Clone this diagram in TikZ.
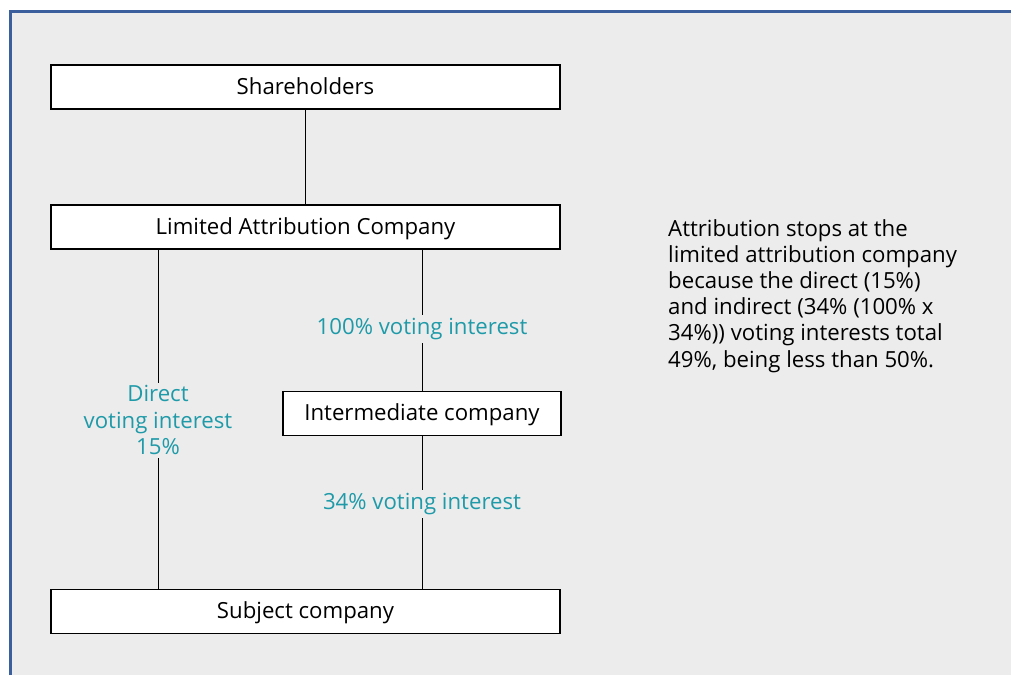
\documentclass[tikz,border=0pt]{standalone}
\usepackage{fontspec}
\setmainfont{Open Sans}
\usepackage{tikz}
\usetikzlibrary{positioning}
\definecolor{panelgray}{HTML}{ECECEC}
\definecolor{framebl}{HTML}{3B5E9C}
\definecolor{tealtxt}{HTML}{1E9AA8}

\begin{document}
\begin{tikzpicture}[x=1pt,y=-1pt,
        box/.style={draw=black, line width=1.6pt, fill=white, minimum height=44pt, inner sep=0pt, text height=15pt, text depth=1pt, font=\fontsize{22.2}{26.5}\selectfont},
        pct/.style={fill=panelgray, text=tealtxt, align=center, inner sep=3pt, font=\fontsize{22.2}{26.5}\selectfont},
        link/.style={line width=1pt, black},
        ]
    \useasboundingbox (0,0) rectangle (1011,675);
    % panel
    \fill[panelgray] (10,11) rectangle (1011,675);
    \draw[framebl, line width=3pt] (10,675) -- (10,11) -- (1011,11);
    % boxes
    \node[box, minimum width=509pt] (share) at (305.5,87) {Shareholders};
    \node[box, minimum width=509pt] (lac) at (305.5,227) {Limited Attribution Company};
    \node[box, minimum width=278pt] (inter) at (422,413.5) {Intermediate company};
    \node[box, minimum width=509pt] (subj) at (305.5,611.5) {Subject company};
    % connectors
    \draw[link] (share.south) -- (lac.north);
    \draw[link] (lac.south -| 158,0) -- (subj.north -| 158,0)
        node[pct, pos=0.503] {Direct\\voting interest\\15\%};
    \draw[link] (lac.south -| inter.north) -- (inter.north)
        node[pct, pos=0.56] {100\% voting interest};
    \draw[link] (inter.south) -- (subj.north -| inter.south)
        node[pct, pos=0.445] {34\% voting interest};
    % note
    \node[anchor=north west, align=left, inner sep=0pt,
          font=\fontsize{22.2}{26.2}\selectfont] (note) at (668,219)
        {Attribution stops at the\\limited attribution company\\because the direct (15\%)\\and indirect (34\% (100\% x\\34\%)) voting interests total\\49\%, being less than 50\%.};
\end{tikzpicture}
\end{document}
